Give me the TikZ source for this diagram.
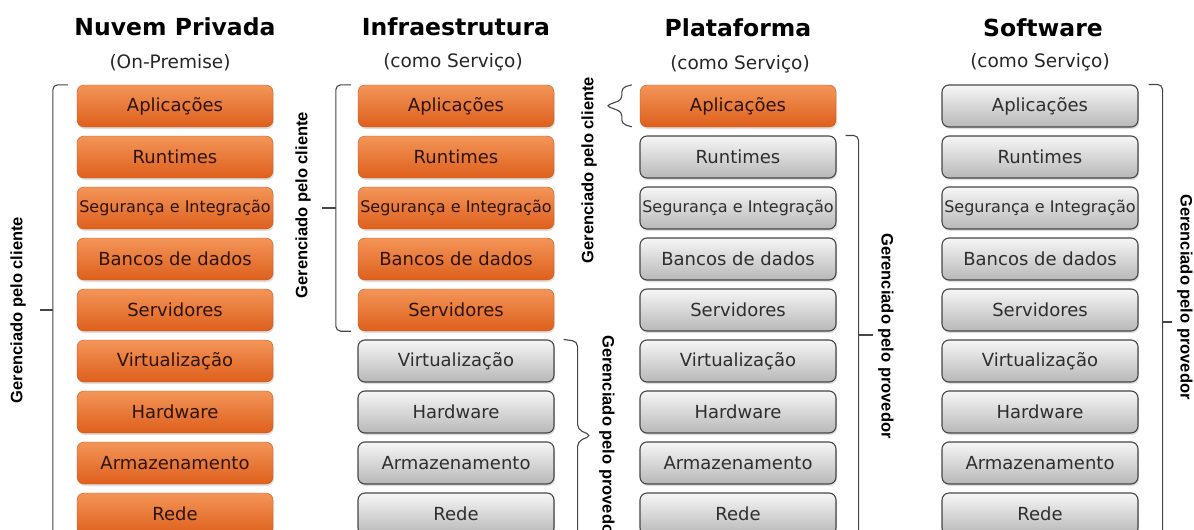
\documentclass[tikz,border=0pt]{standalone}
\usepackage{fontspec}
\setmainfont{DejaVu Sans}
\newfontfamily\lblfont{Liberation Sans}
\usetikzlibrary{shadows}

\definecolor{orngtop}{HTML}{F39558}
\definecolor{orngbot}{HTML}{DE5F1C}
\definecolor{orngtxt}{HTML}{2E1408}
\definecolor{grytop}{HTML}{F6F6F6}
\definecolor{grybot}{HTML}{B8B8B8}
\definecolor{grytxt}{HTML}{2E2E2E}
\definecolor{brk}{HTML}{454545}
\newcommand{\segfont}{\fontsize{16}{19}\selectfont}

\tikzset{
  camada/.style={rounded corners=7pt, minimum width=196pt, minimum height=42pt, inner sep=0pt,
    font=\fontsize{18}{21}\selectfont,
    drop shadow={opacity=0.25, shadow xshift=1pt, shadow yshift=-2pt}},
  cliente/.style={camada, top color=orngtop, bottom color=orngbot, draw=orngbot!90!black, text=orngtxt},
  provedor/.style={camada, top color=grytop, bottom color=grybot, draw=brk, line width=1.1pt, text=grytxt},
  titulo/.style={font=\bfseries\fontsize{23.5}{27}\selectfont},
  subtitulo/.style={font=\fontsize{18.5}{22}\selectfont, text=black!85},
  chave/.style={draw=brk, line width=1.1pt, rounded corners=5pt},
  rotulo/.style={font=\lblfont\bfseries\fontsize{16.5}{19}\selectfont}
}

\begin{document}
\begin{tikzpicture}[x=1pt, y=-1pt]
  \useasboundingbox (0,0) rectangle (1194,530);

  % Titles
  \node[titulo] (t1) at (175,27) {Nuvem Privada};
  \node[subtitulo] (s1) at (170,63) {(On-Premise)};
  \node[titulo] (t2) at (456,27) {Infraestrutura};
  \node[subtitulo] (s2) at (453,62) {(como Serviço)};
  \node[titulo] (t3) at (738,28) {Plataforma};
  \node[subtitulo] (s3) at (740,64) {(como Serviço)};
  \node[titulo] (t4) at (1043,28) {Software};
  \node[subtitulo] (s4) at (1040,62) {(como Serviço)};

  % Layer stacks (first \nl rows are managed by the client)
  \foreach \col/\cx/\nl in {1/175/9, 2/456/5, 3/738/1, 4/1040/0} {
    \foreach \camada [count=\i] in {Aplicações, Runtimes, {\segfont Segurança e Integração},
        Bancos de dados, Servidores, Virtualização, Hardware, Armazenamento, Rede} {
      \ifnum\i>\nl \def\estilo{provedor}\else \def\estilo{cliente}\fi
      \node[\estilo] (c\col r\i) at (\cx,{55+51*\i}) {\camada};
    }
  }

  % Nuvem Privada: client bracket
  \draw[chave] ([xshift=-9pt]c1r1.north west) -- ++(-15,0) -- ++(0,470);
  \draw[chave] ([xshift=-37pt]c1r5.west) -- ([xshift=-24pt]c1r5.west);
  \node[rotulo, rotate=90] (g1) at (18,310) {Gerenciado pelo cliente};

  % Infraestrutura: client and provider brackets
  \draw[chave] ([xshift=-7pt]c2r1.north west) -- ++(-15,0) |- ([xshift=-7pt]c2r5.south west);
  \draw[chave] ([xshift=-36pt]c2r3.west) -- ([xshift=-22pt]c2r3.west);
  \node[rotulo, rotate=90] (g2) at (303,205) {Gerenciado pelo cliente};
  \draw[chave] ([xshift=9pt]c2r6.north east) -- ++(14,2) -- ++(0,88) -- ++(14,6)
    -- ++(-14,6) -- ++(0,120);
  \node[rotulo, rotate=-90] (p2) at (607,438) {Gerenciado pelo provedor};

  % Plataforma: client brace and provider bracket
  \draw[chave, rounded corners=4pt] ([xshift=-8pt]c3r1.north west) -- ++(-10,3) -- ++(0,12)
    -- ++(-16,6) -- ++(16,6) -- ++(0,12) -- ++(10,3);
  \node[rotulo, rotate=90] (g3) at (589,170) {Gerenciado pelo cliente};
  \draw[chave] ([xshift=9pt]c3r2.north east) -- ++(13,0) -- ++(0,420);
  \draw[chave] (858,335) -- (873,335);
  \node[rotulo, rotate=-90] (p3) at (886,336) {Gerenciado pelo provedor};

  % Software: provider bracket
  \draw[chave] ([xshift=10pt]c4r1.north east) -- ++(14,0) -- ++(0,470);
  \draw[chave] (1162,322) -- (1172,322);
  \node[rotulo, rotate=-90] (p4) at (1185,297) {Gerenciado pelo provedor};
\end{tikzpicture}
\end{document}
